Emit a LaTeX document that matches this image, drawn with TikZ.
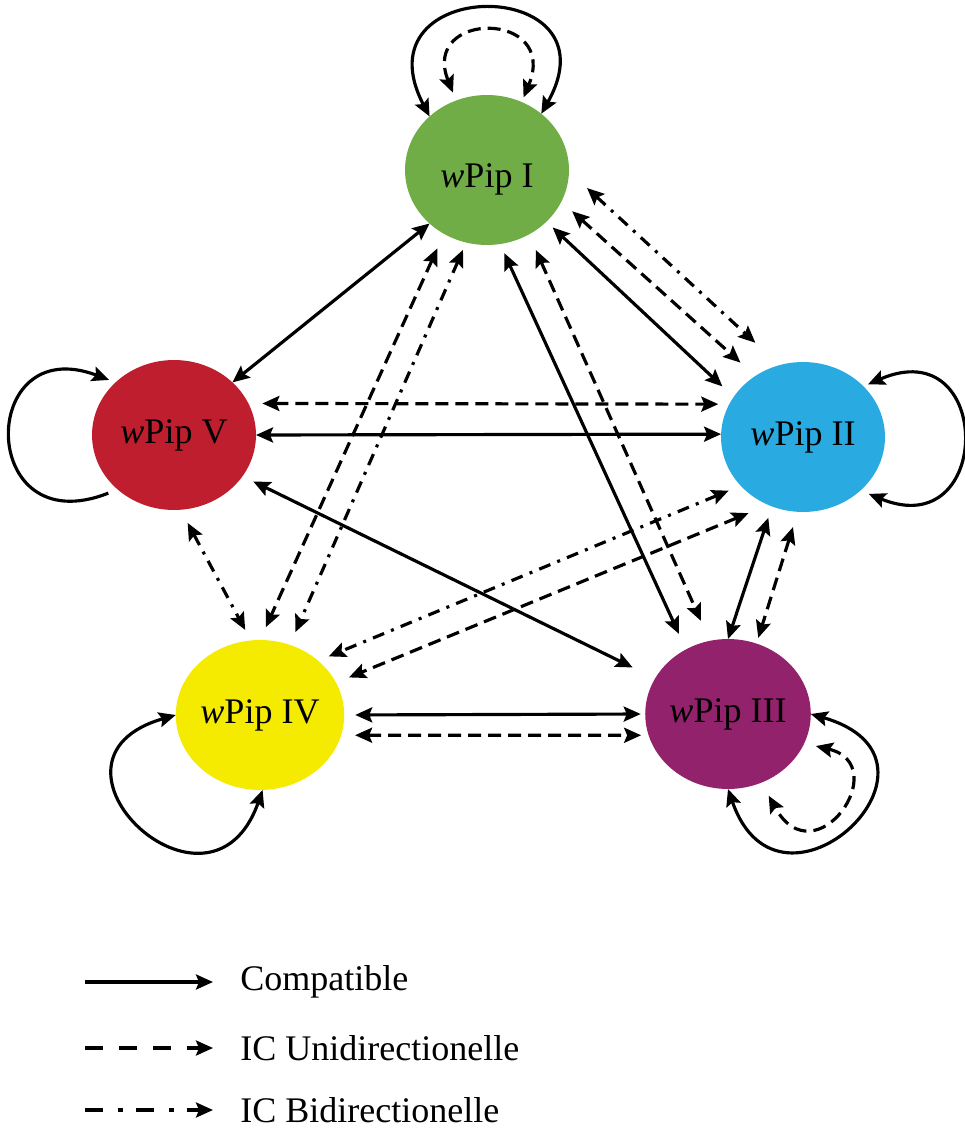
\documentclass[tikz,border=0pt]{standalone}
\usepackage{fontspec}
\setmainfont{Liberation Serif}
\usetikzlibrary{shapes.geometric, arrows.meta}
\definecolor{pipgreen}{RGB}{112,173,71}
\definecolor{pipblue}{RGB}{41,171,226}
\definecolor{pippurple}{RGB}{146,34,107}
\definecolor{pipyellow}{RGB}{245,235,0}
\definecolor{pipred}{RGB}{190,30,45}
\tikzstyle{pip} = [ellipse, minimum width=3.28cm, minimum height=3cm, inner sep=0pt, outer sep=0pt, font=\fontsize{20.5}{24}\selectfont]
\tikzstyle{link} = [line width=1.8pt, >={Stealth[length=0.34cm,width=0.3cm,inset=0.06cm]}]
\tikzstyle{compat} = [link, <->]
\tikzstyle{unidir} = [link, <->, dash pattern=on 0.26cm off 0.14cm]
\tikzstyle{bidir} = [link, <->, dash pattern=on 0.24cm off 0.15cm on 0.06cm off 0.15cm]
\tikzstyle{legtext} = [anchor=west, inner sep=0pt, font=\fontsize{20.5}{24}\selectfont]

\begin{document}
\begin{tikzpicture}[x=0.02cm, y=-0.02cm]
\useasboundingbox (0,0) rectangle (964,1131);

\node (pipI) [pip, fill=pipgreen] at (487,170) {\raisebox{-0.36cm}[0pt][0pt]{\textit{w}Pip I}};
\node (pipII) [pip, fill=pipblue] at (803,437) {\textit{w}Pip II};
\node (pipIII) [pip, fill=pippurple] at (728,714) {\textit{w}Pip III};
\node (pipIV) [pip, fill=pipyellow] at (260,715) {\textit{w}Pip IV};
\node (pipV) [pip, fill=pipred] at (174,435) {\textit{w}Pip V};

% self loops
\draw [compat] (pipI.137.5) .. controls (355,-26) and (620,-26) .. (pipI.46.5);
\draw [unidir, shorten <=0.17cm, shorten >=0.1cm] (pipI.114.4) .. controls (420,10) and (560,10) .. (pipI.63.7);
\draw [compat, <-, shorten <=0.14cm, shorten >=0.2cm] (pipV.138.3) .. controls (-23,330) and (-23,545) .. (pipV.224);
\draw [compat, shorten <=0.1cm, shorten >=0.18cm] (pipII.40.7) .. controls (994,330) and (994,545) .. (pipII.-43.2);
\draw [compat] (pipIV.180) .. controls (20,760) and (210,940) .. (pipIV.272);
\draw [compat] (pipIII.0) .. controls (970,760) and (780,940) .. (pipIII.270);
\draw [unidir, shorten <=0.24cm, shorten >=0.3cm] (pipIII.-21.3) .. controls (895,765) and (815,880) .. (pipIII.-64.8);

% links from wPip I
\draw [compat] (pipI.223) -- (pipV.42);
\draw [bidir, shorten <=0.49cm, shorten >=0.66cm] (pipI.-1) -- (pipII.108);
\draw [unidir, shorten <=0.29cm, shorten >=0.4cm] (pipI.-23.5) -- (pipII.128.5);
\draw [compat, shorten <=0.17cm, shorten >=0.31cm] (pipI.-41.6) -- (pipII.150.5);
\draw [compat, shorten <=0.2cm, shorten >=0.34cm] (pipI.-80) -- (pipIII.123.6);
\draw [unidir, shorten <=0.34cm, shorten >=0.44cm] (pipI.-57) -- (pipIII.104.5);
\draw [unidir, shorten <=0.32cm, shorten >=0.28cm] (pipI.-124.4) -- (pipIV.90.7);
\draw [bidir, shorten <=0.16cm, shorten >=0.28cm] (pipI.-106) -- (pipIV.67.3);

% links from wPip V
\draw [unidir, shorten <=0.28cm, shorten >=0.22cm] (pipV.23.3) -- (pipII.156.7);
\draw [compat] (pipV.0) -- (pipII.178.6);
\draw [compat, shorten <=0.24cm, shorten >=0.5cm] (pipV.-31.4) -- (pipIII.154.2);
\draw [bidir, shorten <=0.3cm, shorten >=0.24cm] (pipV.-85.5) -- (pipIV.97);

% links from wPip II
\draw [bidir, shorten <=0.26cm, shorten >=0.23cm] (pipII.-142.7) -- (pipIV.43);
\draw [unidir, shorten <=0.43cm, shorten >=0.28cm] (pipII.-117.3) -- (pipIV.23.8);
\draw [compat, shorten <=0.24cm] (pipII.-114.2) -- (pipIII.90);
\draw [unidir, shorten <=0.32cm, shorten >=0.12cm] (pipII.-94.8) -- (pipIII.68.4);

% links from wPip IV
\draw [compat, shorten <=0.22cm, shorten >=0.09cm] (pipIV.0) -- (pipIII.180);
\draw [unidir, shorten <=0.28cm, shorten >=0.15cm] (pipIV.-14.2) -- (pipIII.-165);

% legend
\coordinate (lega) at (85,982);
\coordinate (legb) at (85,1048);
\coordinate (legc) at (85,1110);
\node (compattext) [legtext] at (240,982) {Compatible};
\node (unitext) [legtext] at (240,1048) {IC Unidirectionelle};
\node (bitext) [legtext] at (240,1110) {IC Bidirectionelle};
\draw [compat, ->, shorten >=0.54cm] (lega) -- (compattext.west);
\draw [link, ->, dash pattern=on 0.36cm off 0.32cm, shorten >=0.54cm] (legb) -- (unitext.west);
\draw [link, ->, dash pattern=on 0.36cm off 0.3cm on 0.1cm off 0.26cm, shorten >=0.54cm] (legc) -- (bitext.west);
\end{tikzpicture}
\end{document}
